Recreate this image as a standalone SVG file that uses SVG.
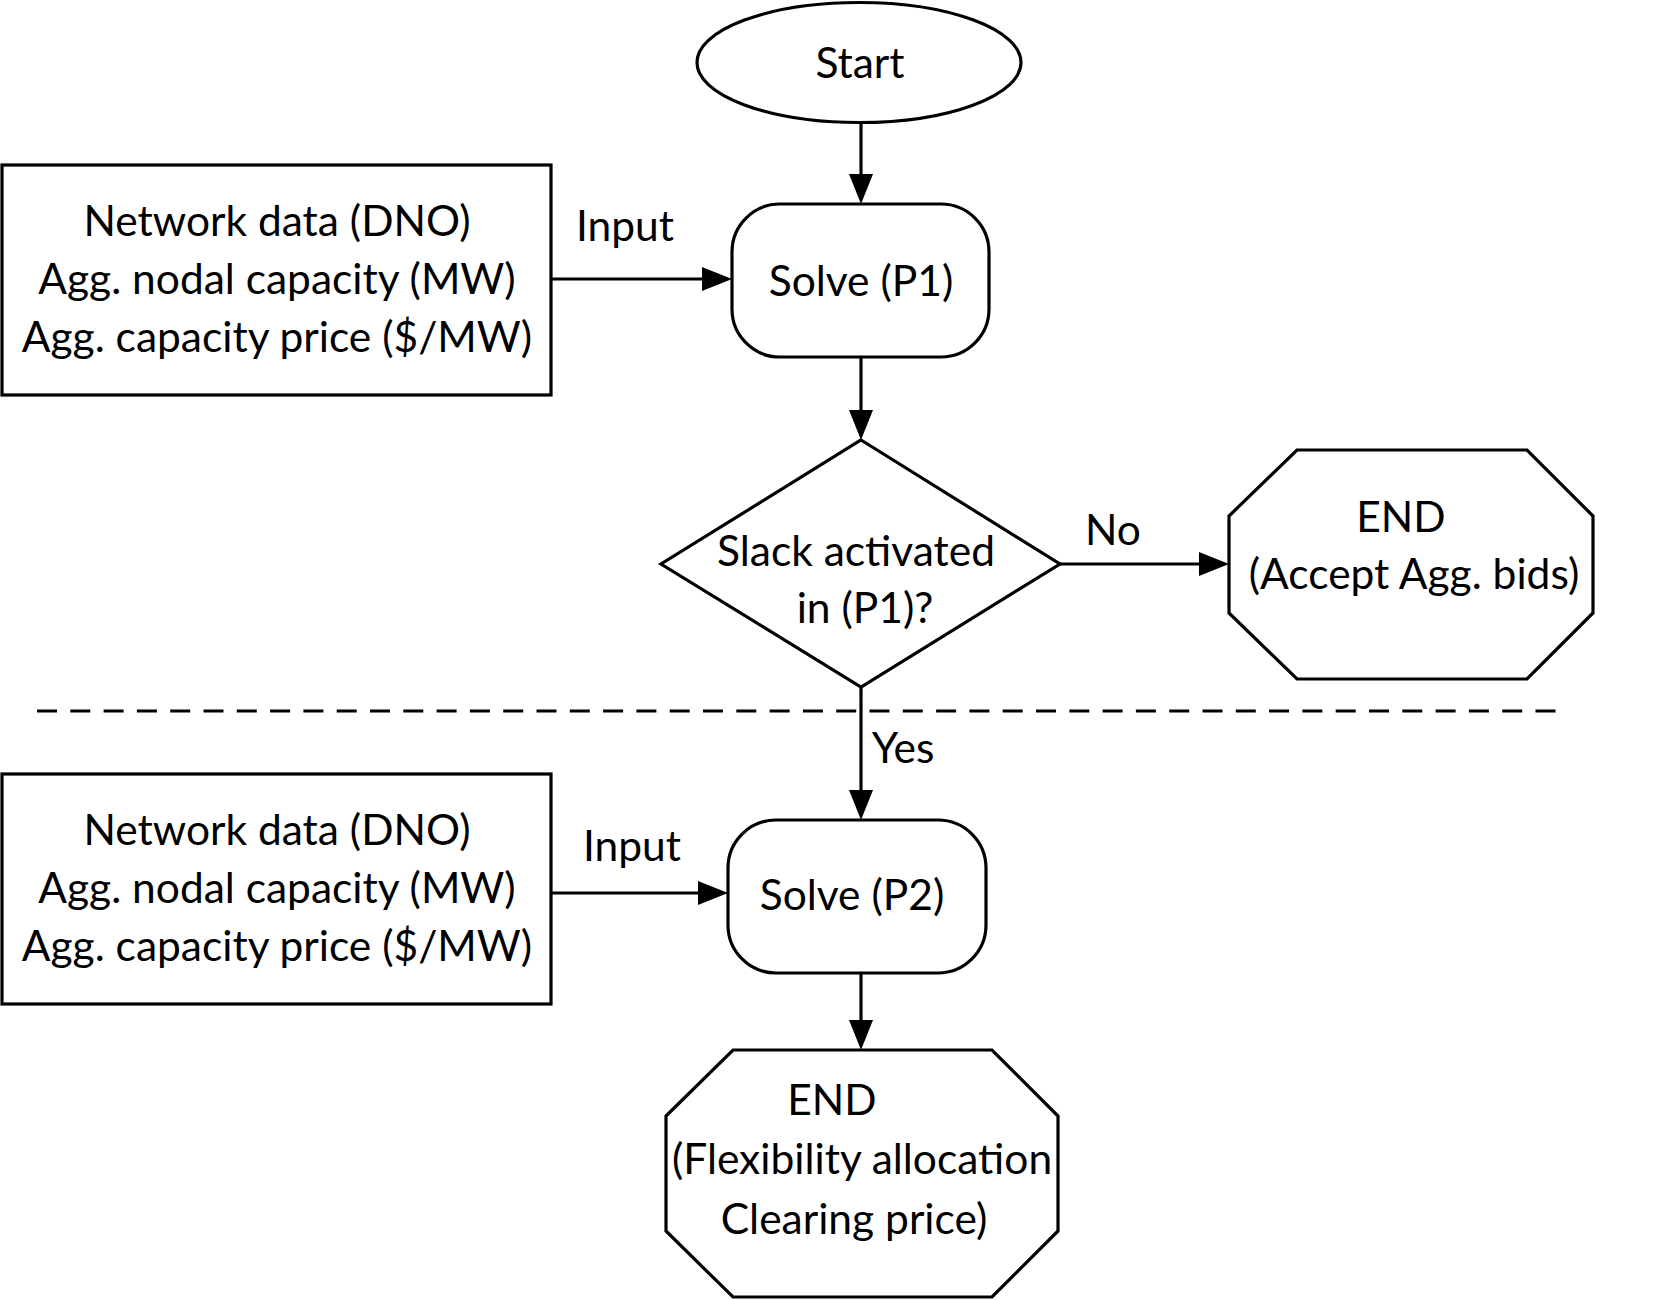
<svg xmlns="http://www.w3.org/2000/svg" width="1656" height="1300" viewBox="0 0 1656 1300">
<style>
.shape{fill:#fff;stroke:#000;stroke-width:3.2}
.conn{fill:none;stroke:#000;stroke-width:3.2}
text{font-family:Lato,"Liberation Sans",sans-serif;font-size:42.5px;fill:#000;text-anchor:middle}
</style>
<defs>
<marker id="arr" markerUnits="userSpaceOnUse" markerWidth="32" markerHeight="26" refX="0" refY="12" orient="auto">
<path d="M0,0 L30,12 L0,24 Z" fill="#000"/>
</marker>
</defs>
<rect width="1656" height="1300" fill="#fff"/>
<g id="connectors">
<path class="conn" d="M861,123 V174" marker-end="url(#arr)"/>
<path class="conn" d="M551,279 H702" marker-end="url(#arr)"/>
<path class="conn" d="M861,357 V410" marker-end="url(#arr)"/>
<path class="conn" d="M1060,564 H1199" marker-end="url(#arr)"/>
<path class="conn" d="M861,687 V790" marker-end="url(#arr)"/>
<path class="conn" d="M551,893 H698" marker-end="url(#arr)"/>
<path class="conn" d="M861,973 V1020" marker-end="url(#arr)"/>
<text x="625" y="241">Input</text>
<text x="1113" y="545">No</text>
<text x="903" y="763">Yes</text>
<text x="632" y="861">Input</text>
</g>
<g id="divider">
<path d="M37,711 H1556" fill="none" stroke="#000" stroke-width="3.2" stroke-dasharray="20 13.3"/>
</g>
<g id="start">
<ellipse class="shape" cx="859" cy="62.5" rx="162" ry="60"/>
<text x="860" y="78">Start</text>
</g>
<g id="input1">
<rect class="shape" x="2" y="165" width="549" height="230"/>
<text x="277" y="236">Network data (DNO)</text>
<text x="277" y="294">Agg. nodal capacity (MW)</text>
<text x="277" y="352">Agg. capacity price ($/MW)</text>
</g>
<g id="solve1">
<rect class="shape" x="732" y="204" width="257" height="153" rx="48" ry="48"/>
<text x="861" y="296">Solve (P1)</text>
</g>
<g id="decision">
<polygon class="shape" points="861,440 1060,564 861,687 661,564"/>
<text x="856" y="566">Slack activated</text>
<text x="865" y="623">in (P1)?</text>
</g>
<g id="end1">
<polygon class="shape" points="1297,450 1527,450 1593,516 1593,613 1527,679 1297,679 1229,613 1229,516"/>
<text x="1401" y="532">END</text>
<text x="1414" y="589">(Accept Agg. bids)</text>
</g>
<g id="input2">
<rect class="shape" x="2" y="774" width="549" height="230"/>
<text x="277" y="845">Network data (DNO)</text>
<text x="277" y="903">Agg. nodal capacity (MW)</text>
<text x="277" y="961">Agg. capacity price ($/MW)</text>
</g>
<g id="solve2">
<rect class="shape" x="728" y="820" width="258" height="153" rx="48" ry="48"/>
<text x="852" y="910">Solve (P2)</text>
</g>
<g id="end2">
<polygon class="shape" points="733,1050 992,1050 1058,1116 1058,1231 992,1297 733,1297 666,1231 666,1116"/>
<text x="832" y="1115">END</text>
<text x="862" y="1174">(Flexibility allocation</text>
<text x="854" y="1234">Clearing price)</text>
</g>
</svg>
